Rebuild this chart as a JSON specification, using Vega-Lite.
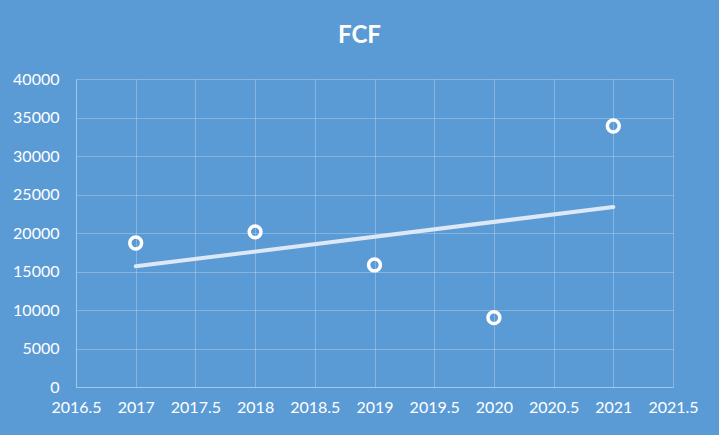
{
  "$schema": "https://vega.github.io/schema/vega-lite/v6.json",
  "width": 597,
  "height": 308,
  "autosize": "none",
  "padding": {"left": 76, "top": 79, "right": 46, "bottom": 48},
  "background": "#5B9BD5",
  "config": {
    "view": {"stroke": null},
    "font": "Lato"
  },
  "title": {
    "text": "FCF",
    "color": "#FFFFFF",
    "fontSize": 24,
    "fontWeight": "bold",
    "font": "Lato",
    "anchor": "middle",
    "dx": -15,
    "offset": 23
  },
  "data": {
    "values": [
      {"year": 2017, "fcf": 18700},
      {"year": 2018, "fcf": 20150},
      {"year": 2019, "fcf": 15850},
      {"year": 2020, "fcf": 9000},
      {"year": 2021, "fcf": 33900}
    ]
  },
  "encoding": {
    "x": {
      "field": "year",
      "type": "quantitative",
      "scale": {"domain": [2016.5, 2021.5], "nice": false, "zero": false},
      "axis": {
        "title": null,
        "values": [2016.5, 2017, 2017.5, 2018, 2018.5, 2019, 2019.5, 2020, 2020.5, 2021, 2021.5],
        "labelExpr": "datum.value % 1 === 0 ? format(datum.value, 'd') : format(datum.value, '.1f')",
        "labelColor": "#FFFFFF",
        "labelFontSize": 16,
        "labelFont": "Lato",
        "labelPadding": 12,
        "ticks": false,
        "grid": true,
        "gridColor": "#FFFFFF",
        "gridOpacity": 0.25,
        "domainColor": "#FFFFFF",
        "domainOpacity": 0.25,
        "labelFlush": false,
        "labelOverlap": false
      }
    },
    "y": {
      "field": "fcf",
      "type": "quantitative",
      "scale": {"domain": [0, 40000], "nice": false},
      "axis": {
        "title": null,
        "values": [0, 5000, 10000, 15000, 20000, 25000, 30000, 35000, 40000],
        "format": "d",
        "labelColor": "#FFFFFF",
        "labelFontSize": 16,
        "labelFont": "Lato",
        "labelPadding": 17,
        "ticks": false,
        "grid": true,
        "gridColor": "#FFFFFF",
        "gridOpacity": 0.25,
        "domainColor": "#FFFFFF",
        "domainOpacity": 0.25
      }
    }
  },
  "layer": [
    {
      "transform": [
        {"regression": "fcf", "on": "year", "method": "linear"}
      ],
      "mark": {"type": "line", "color": "#DCE8F5", "strokeWidth": 4, "strokeCap": "round"}
    },
    {
      "mark": {"type": "point", "shape": "circle", "filled": false, "stroke": "#FFFFFF", "strokeWidth": 3.5, "size": 140, "opacity": 1}
    }
  ]
}
